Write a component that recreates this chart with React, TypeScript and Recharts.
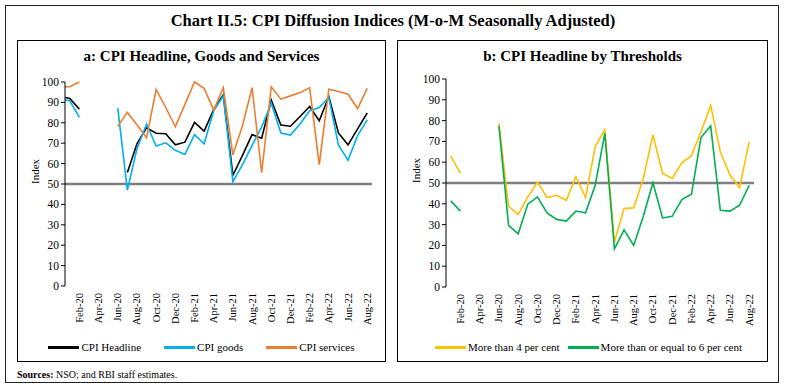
import { LineChart, Line, XAxis, YAxis, ReferenceLine, Legend } from 'recharts';

const FONT = '"Liberation Serif", "DejaVu Serif", serif';

// Jan-20 .. Aug-22, one entry per month
const MONTHS = [
  'Jan-20', 'Feb-20', 'Mar-20', 'Apr-20', 'May-20', 'Jun-20', 'Jul-20', 'Aug-20',
  'Sep-20', 'Oct-20', 'Nov-20', 'Dec-20', 'Jan-21', 'Feb-21', 'Mar-21', 'Apr-21',
  'May-21', 'Jun-21', 'Jul-21', 'Aug-21', 'Sep-21', 'Oct-21', 'Nov-21', 'Dec-21',
  'Jan-22', 'Feb-22', 'Mar-22', 'Apr-22', 'May-22', 'Jun-22', 'Jul-22', 'Aug-22',
];

// panel a
const HEADLINE = [91.9, 86.7, null, null, null, null, 55.6, 69.7, 77.5, 74.9, 74.6, 69.2, 70.5, 80.2, 75.9, 86.4,
  93.7, 54.3, 64, 74.2, 72.4, 91.1, 78.9, 78.3, 83.1, 88, 81, 92.9, 75, 69.2, 77, 84.8];
const GOODS = [90.8, 82.7, null, null, null, 87.2, 47, 67.3, 79.4, 68.6, 70.2, 66.5, 64.5, 74.2, 69.7, 85.9,
  93.2, 51.1, 59.5, 68.9, 78, 89.6, 75, 74, 79.4, 85.9, 87.5, 92.4, 69.2, 61.6, 73.7, 81.4];
const SERVICES = [97.7, 100, null, null, null, 78.3, 85.1, 79, 72.6, 96.4, 87.5, 78.1, 89, 100, 96.9, 86.2,
  97.2, 64.3, 78.6, 97.2, 55.6, 97.7, 91.6, 93.2, 94.8, 97.2, 59.5, 96.4, 95.3, 94, 87, 96.9];
// Dec-19 point, only the bit inside the plot shows
const PRE_HEADLINE = 92.9;
const PRE_GOODS = 91.6;
const PRE_SERVICES = 97.7;

// panel b
const ABOVE_4 = [62.9, 54.6, null, null, null, 78.7, 38.8, 34.9, 43.3, 50.5, 43, 44.1, 41.7, 53, 43, 67.5,
  75.5, 21.6, 37.7, 38.1, 52.2, 73.1, 54.6, 52.2, 59.7, 63.1, 74.7, 87.3, 65, 53.8, 47.8, 69.9];
const AT_LEAST_6 = [41.4, 36.5, null, null, null, 77.4, 29.6, 25.6, 39.8, 43.3, 35.6, 32.5, 31.7, 36.5, 35.7, 48.9,
  73.9, 18.3, 27.5, 20, 34, 50.1, 33.2, 34, 42, 44.6, 72, 77.4, 36.9, 36.5, 39.3, 48.9];

const Y_TICKS = [0, 10, 20, 30, 40, 50, 60, 70, 80, 90, 100];

const dataA = [
  { x: -1, headline: PRE_HEADLINE, goods: PRE_GOODS, services: PRE_SERVICES },
  ...MONTHS.map((_, i) => ({ x: i, headline: HEADLINE[i], goods: GOODS[i], services: SERVICES[i] })),
];
const dataB = MONTHS.map((_, i) => ({ x: i, above4: ABOVE_4[i], atLeast6: AT_LEAST_6[i] }));

const BOUNDS = [...MONTHS.map((_, i) => i - 0.5), MONTHS.length - 0.5];
const LABEL_TICKS = MONTHS.map((_, i) => i).filter(i => i % 2 === 1);
const DOMAIN: [number, number] = [-0.5, MONTHS.length - 0.5];

function MonthTick({ x, y, payload }: any) {
  return (
    <text
      x={x}
      y={y}
      transform={`rotate(-90, ${x}, ${y})`}
      textAnchor="end"
      dominantBaseline="central"
      fontSize={10.5}
      fontFamily={FONT}
      fill="#000"
    >
      {MONTHS[payload.value]}
    </text>
  );
}

function LegendRow({ items, gap, shift }: { items: { name: string; color: string }[]; gap: number; shift: number }) {
  return (
    <div style={{ display: 'flex', justifyContent: 'center', fontFamily: FONT, fontSize: 11, color: '#000', transform: `translateX(${shift}px)` }}>
      {items.map((it, i) => (
        <span key={it.name} style={{ display: 'flex', alignItems: 'center', marginLeft: i === 0 ? 0 : gap }}>
          <span style={{ display: 'inline-block', width: 31, height: 3, background: it.color, marginRight: 2 }} />
          {it.name}
        </span>
      ))}
    </div>
  );
}

const axisLine = { stroke: '#000', strokeWidth: 1 };
const tickStyle = { fontSize: 11.5, fill: '#000', fontFamily: FONT };

function ChartA() {
  const items = [
    { name: 'CPI Headline', color: '#000000' },
    { name: 'CPI goods', color: '#00B0F0' },
    { name: 'CPI services', color: '#ED7D31' },
  ];
  return (
    <LineChart width={369} height={322} data={dataA} margin={{ top: 42, right: 14, bottom: 36, left: 18 }}>
      <XAxis xAxisId="m" dataKey="x" type="number" domain={DOMAIN} allowDataOverflow ticks={BOUNDS}
        tick={false} tickSize={4} tickLine={axisLine} axisLine={axisLine} height={0} />
      <XAxis xAxisId="l" dataKey="x" type="number" domain={DOMAIN} allowDataOverflow ticks={LABEL_TICKS}
        tick={<MonthTick />} tickLine={false} axisLine={false} tickSize={0} tickMargin={7} height={40} interval={0} />
      <YAxis domain={[0, 100]} ticks={Y_TICKS} width={30} tickSize={4} tickMargin={2}
        tick={tickStyle} tickLine={axisLine} axisLine={axisLine}
        label={{ value: 'Index', angle: -90, position: 'insideLeft', offset: 0, style: { fontSize: 11, fill: '#000', fontFamily: FONT } }} />
      <ReferenceLine xAxisId="m" y={50} stroke="#7f7f7f" strokeWidth={2.5} />
      <Line xAxisId="m" dataKey="headline" stroke="#000000" strokeWidth={1.6} dot={false} isAnimationActive={false} />
      <Line xAxisId="m" dataKey="goods" stroke="#00B0F0" strokeWidth={1.6} dot={false} isAnimationActive={false} />
      <Line xAxisId="m" dataKey="services" stroke="#ED7D31" strokeWidth={1.6} dot={false} isAnimationActive={false} />
      <Legend verticalAlign="middle" wrapperStyle={{ left: 0, top: 301, width: 369 }}
        content={() => <LegendRow items={items} gap={23} shift={0} />} />
    </LineChart>
  );
}

function ChartB() {
  const items = [
    { name: 'More than 4 per cent', color: '#FFC000' },
    { name: 'More than or equal to 6 per cent', color: '#00B050' },
  ];
  return (
    <LineChart width={371} height={322} data={dataB} margin={{ top: 39, right: 14, bottom: 35, left: 19 }}>
      <XAxis xAxisId="m" dataKey="x" type="number" domain={DOMAIN} allowDataOverflow ticks={BOUNDS}
        tick={false} tickSize={4} tickLine={axisLine} axisLine={axisLine} height={0} />
      <XAxis xAxisId="l" dataKey="x" type="number" domain={DOMAIN} allowDataOverflow ticks={LABEL_TICKS}
        tick={<MonthTick />} tickLine={false} axisLine={false} tickSize={0} tickMargin={7} height={40} interval={0} />
      <YAxis domain={[0, 100]} ticks={Y_TICKS} width={30} tickSize={4} tickMargin={2}
        tick={tickStyle} tickLine={axisLine} axisLine={axisLine}
        label={{ value: 'Index', angle: -90, position: 'insideLeft', offset: 0, style: { fontSize: 11, fill: '#000', fontFamily: FONT } }} />
      <ReferenceLine xAxisId="m" y={50} stroke="#7f7f7f" strokeWidth={2.5} />
      <Line xAxisId="m" dataKey="above4" stroke="#FFC000" strokeWidth={1.6} dot={false} isAnimationActive={false} />
      <Line xAxisId="m" dataKey="atLeast6" stroke="#00B050" strokeWidth={1.6} dot={false} isAnimationActive={false} />
      <Legend verticalAlign="middle" wrapperStyle={{ left: 0, top: 301, width: 371 }}
        content={() => <LegendRow items={items} gap={8} shift={6} />} />
    </LineChart>
  );
}

export default function App() {
  return (
    <div style={{ position: 'absolute', left: 0, top: 0, width: 786, height: 388, background: '#fff', fontFamily: FONT, color: '#000' }}>
      <div style={{ position: 'absolute', left: 5, top: 5, width: 774, height: 378, border: '1px solid #222', boxSizing: 'border-box' }} />
      <div style={{ position: 'absolute', left: 0, top: 11, width: 786, textAlign: 'center', fontSize: 16.5, fontWeight: 'bold' }}>
        Chart II.5: CPI Diffusion Indices (M-o-M Seasonally Adjusted)
      </div>

      <div style={{ position: 'absolute', left: 17, top: 40, width: 369, height: 322, border: '1px solid #000', boxSizing: 'border-box' }} />
      <div style={{ position: 'absolute', left: 17, top: 48, width: 369, textAlign: 'center', fontSize: 15, fontWeight: 'bold' }}>
        a: CPI Headline, Goods and Services
      </div>
      <div style={{ position: 'absolute', left: 17, top: 40 }}>
        <ChartA />
      </div>

      <div style={{ position: 'absolute', left: 397, top: 40, width: 371, height: 322, border: '1px solid #000', boxSizing: 'border-box' }} />
      <div style={{ position: 'absolute', left: 397, top: 48, width: 371, textAlign: 'center', fontSize: 15, fontWeight: 'bold' }}>
        b: CPI Headline by Thresholds
      </div>
      <div style={{ position: 'absolute', left: 397, top: 40 }}>
        <ChartB />
      </div>

      <div style={{ position: 'absolute', left: 17, top: 369, fontSize: 10 }}>
        <b>Sources:</b> NSO; and RBI staff estimates.
      </div>
    </div>
  );
}
